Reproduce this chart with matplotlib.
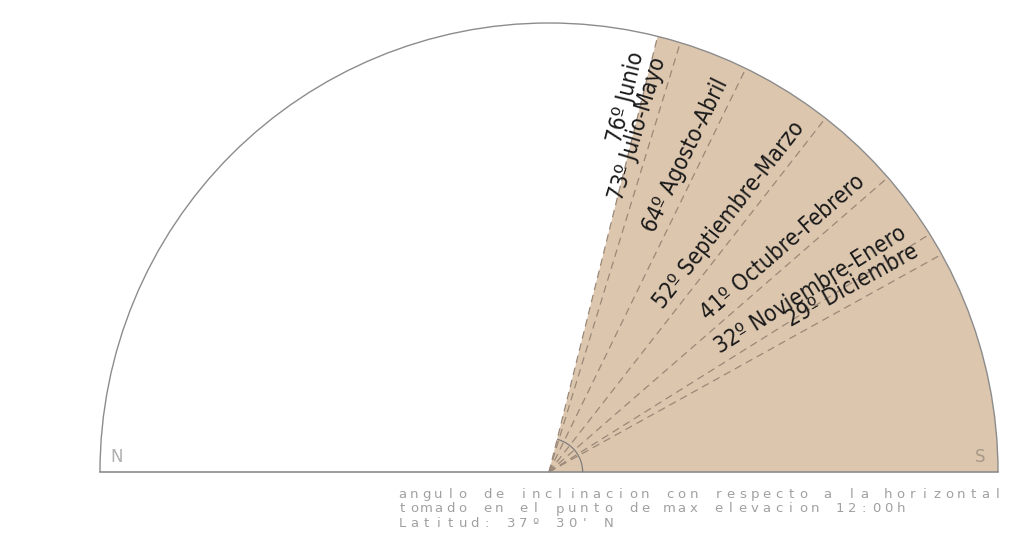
#!/usr/bin/env python3
import numpy as np
import matplotlib
matplotlib.use("Agg")
import matplotlib.pyplot as plt
from matplotlib.patches import Wedge, Arc

# angulos de elevacion maxima (12:00h) por mes, latitud 37º 30' N
angulos = [76, 73, 64, 52, 41, 32, 29]
etiquetas = ["76º Junio", "73º Julio-Mayo", "64º Agosto-Abril",
             "52º Septiembre-Marzo", "41º Octubre-Febrero",
             "32º Noviembre-Enero", "29º Diciembre"]
nota = ["angulo de inclinacion con respecto a la horizontal",
        "tomado en el punto de max elevacion 12:00h",
        "Latitud: 37º 30' N"]

W, H = 1016, 540
R = 449.0          # radio en px
CX, CY = 549, 472  # centro en px (desde arriba)

fig = plt.figure(figsize=(W / 100, H / 100), dpi=100)
ax = fig.add_axes([0, 0, 1, 1])
ax.set_xlim(-CX / R, (W - CX) / R)
ax.set_ylim(-(H - CY) / R, CY / R)
ax.set_aspect("equal")
ax.axis("off")

col_fill = "#dcc6ae"
col_line = "#8c8c8c"
col_dash = "#9a8878"

# sector iluminado hasta el angulo maximo
ax.add_patch(Wedge((0, 0), 1, 0, max(angulos), facecolor=col_fill,
                   edgecolor="none", zorder=1))

# contorno semicircular
ax.add_patch(Arc((0, 0), 2, 2, theta1=0, theta2=180, color=col_line, lw=1, zorder=3))
ax.plot([-1, 1], [0, 0], color=col_line, lw=1.2, zorder=3)

# arco pequeño en el origen
ax.add_patch(Arc((0, 0), 0.15, 0.15, theta1=0, theta2=max(angulos),
                 color="#777777", lw=0.8, zorder=3))

for a, txt in zip(angulos, etiquetas):
    t = np.deg2rad(a)
    ax.plot([0, np.cos(t)], [0, np.sin(t)], color=col_dash, lw=0.9,
            dashes=(6, 4), zorder=2)
    r = 0.955
    off = 0.010
    x = r * np.cos(t) - off * np.sin(t)
    y = r * np.sin(t) + off * np.cos(t)
    ax.text(x, y, txt, rotation=a, rotation_mode="anchor", ha="right",
            va="bottom", fontsize=16.5, fontstretch="condensed",
            color="#1a1a1a", zorder=4)

# puntos cardinales
ax.text((117 - CX) / R, (CY - 457) / R, "N", fontsize=12, color="#b0b0b0",
        ha="center", va="center")
ax.text((980 - CX) / R, (CY - 457) / R, "S", fontsize=12, color="#a89888",
        ha="center", va="center")

# nota inferior, letras espaciadas
pitch = 12.16 / R
x0 = (402 - CX) / R
for i, linea in enumerate(nota):
    yb = (CY - (498 + 14.5 * i)) / R
    for j, ch in enumerate(linea):
        if ch == " ":
            continue
        ax.text(x0 + j * pitch, yb, ch, fontsize=9.5, color="#a0a0a0",
                ha="center", va="baseline")

plt.savefig("out.png", dpi=100)
